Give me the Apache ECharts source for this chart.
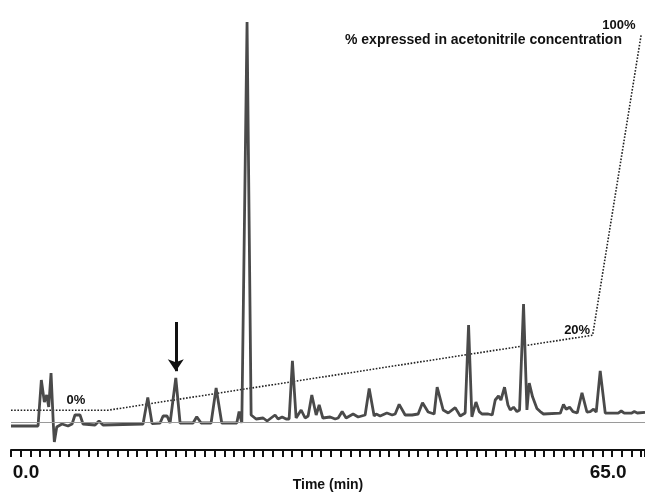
<!DOCTYPE html>
<html>
<head>
<meta charset="utf-8">
<script src="https://cdn.jsdelivr.net/npm/echarts@6/dist/echarts.min.js"></script>
<style>
  html, body { margin: 0; padding: 0; background: #fff; }
  #chart { width: 645px; height: 494px; }
</style>
</head>
<body>
<div id="chart"></div>
<script>
// chromatogram trace (time in min, signal in arbitrary units)
const traceTime = [
  0, 2.79, 3.13, 3.44, 3.68, 3.89, 4.13, 4.37, 4.47, 4.72, 5.26, 5.88, 6.30, 6.60, 7.12, 7.43,
  8.67, 9.08, 9.49, 13.62, 14.11, 14.55, 15.38, 15.69, 16.10, 16.41, 16.58, 17.00, 17.44,
  18.78, 19.16, 19.61, 20.64, 21.16, 21.74, 23.29, 23.53, 23.81, 23.97, 24.35, 24.77, 25.28,
  26.01, 26.42, 27.24, 27.55, 27.97, 28.38, 28.69, 29.03, 29.41, 29.93, 30.34, 30.65, 31.03,
  31.48, 31.79, 32.17, 32.92, 33.44, 33.75, 34.16, 34.57, 35.29, 35.81, 36.53, 36.64, 36.95,
  37.46, 37.67, 38.08, 38.77, 39.32, 39.63, 40.04, 40.66, 41.38, 42.00, 42.45, 43.03, 43.65,
  43.96, 44.58, 45.10, 45.82, 46.34, 46.85, 47.20, 47.54, 47.96, 48.30, 48.58, 49.23, 49.64,
  49.95, 50.29, 50.54, 50.91, 51.26, 51.50, 51.84, 52.19, 52.46, 52.87, 53.22, 53.46, 53.80,
  54.25, 54.59, 54.93, 56.66, 56.99, 57.27, 57.62, 57.97, 58.41, 58.90, 59.41, 59.75, 60.09,
  60.37, 60.78, 61.30, 62.64, 62.95, 63.26, 63.99, 64.30, 64.60, 65.40
]
const traceSignal = [
  -0.5, -0.5, 11, 5.5, 7.25, 4.25, 12.75, -0.25, -4.5, -0.75, 0, -0.5, 0, 2.25, 2.25, 0,
  -0.25, 0.75, -0.25, 0, 6.6, 0.1, 0.25, 2, 2, 0.25, 0.25, 11.5, 0.25,
  0.25, 1.8, 0.25, 0.25, 9, 0.25, 0.25, 3.1, 0.25, 0.25, 100.5, 2.25, 1.25,
  1.5, 0.75, 2.25, 1.25, 1.75, 1.25, 1.25, 15.8, 1.5, 3.5, 1.5, 2, 7.25,
  2.25, 4.75, 1.5, 1.75, 1.25, 1.5, 3.1, 1.5, 2.5, 1.75, 2.25, 1.75, 8.9,
  2, 2.5, 2, 2.75, 2.25, 2.5, 4.9, 2.25, 2.25, 2.5, 5.3, 3, 2.5,
  9.2, 3.5, 2.75, 4.1, 2, 2.75, 24.75, 1.8, 5.5, 3.1, 2.5, 2.5, 2.25,
  6, 7, 6, 9.2, 4.75, 3.5, 4.2, 3.1, 3.5, 30, 3.5, 10.2, 6.8,
  3.9, 3.1, 2.5, 2.7, 4.9, 3.7, 4.2, 3.1, 2.75, 7.8, 3, 3.1, 3.7,
  3, 13.3, 2.7, 2.7, 3.25, 2.7, 2.7, 3.1, 2.75, 2.9
]

// acetonitrile gradient (%)
const gradientTime = [0, 10, 60, 65]
const gradientPct = [0, 0, 20, 100]
const gradientLabels = ['', '0%', '20%', '100%']

const xTickLabels = { 0: '0.0', 65: '65.0' }
const markedPeak = 17.0   // arrow
const baselineLevel = 0.5

const fontFamily = '"Liberation Sans", Arial, sans-serif'

const chart = echarts.init(document.getElementById('chart'))

const labelPos = [
  null,
  { position: 'top', offset: [-32, 2] },
  { position: 'left', offset: [3, -5] },
  { position: 'left', offset: [0, -10] }
]

const option = {
  backgroundColor: '#ffffff',
  animation: false,
  title: {
    text: '% expressed in acetonitrile concentration',
    left: 340,
    top: 28,
    textStyle: { fontSize: 14, fontWeight: 'bold', fontFamily: fontFamily, color: '#111' }
  },
  grid: { left: 11, right: 0, top: 20, bottom: 50, outerBoundsMode: 'none', containLabel: false },
  xAxis: {
    type: 'value',
    min: 0,
    max: 65.4,
    interval: 1,
    offset: 6,
    splitLine: { show: false },
    axisLine: { onZero: false, lineStyle: { color: '#111', width: 2 } },
    axisTick: { length: 7, lineStyle: { color: '#111', width: 2 } },
    axisLabel: {
      interval: 0,
      margin: 13,
      formatter: v => (v === 0 ? '{a|' + xTickLabels[0] + '}' : v === 65 ? '{b|' + xTickLabels[65] + '}' : ''),
      rich: {
        a: { fontSize: 19, fontWeight: 'bold', fontFamily: fontFamily, color: '#111', padding: [0, 0, 0, 30] },
        b: { fontSize: 19, fontWeight: 'bold', fontFamily: fontFamily, color: '#111', padding: [0, 66, 0, 0] }
      }
    },
    name: 'Time (min)',
    nameLocation: 'middle',
    nameGap: 28,
    nameMoveOverlap: false,
    nameTextStyle: { fontSize: 14, fontWeight: 'bold', fontFamily: fontFamily, color: '#111' }
  },
  yAxis: [
    { type: 'value', min: -5, max: 101, show: false, splitLine: { show: false } },
    { type: 'value', min: -9, max: 104, show: false, splitLine: { show: false } }
  ],
  series: [
    {
      type: 'line',
      name: 'gradient',
      yAxisIndex: 1,
      showSymbol: true,
      symbol: 'circle',
      symbolSize: 1,
      itemStyle: { color: 'rgba(0,0,0,0)' },
      silent: true,
      lineStyle: { color: '#222', width: 1.6, type: 'dotted' },
      data: gradientTime.map((t, i) => {
        const item = { value: [t, gradientPct[i]] }
        if (gradientLabels[i]) {
          item.label = Object.assign({
            show: true,
            formatter: gradientLabels[i],
            fontSize: 13,
            fontWeight: 'bold',
            fontFamily: fontFamily,
            color: '#111'
          }, labelPos[i])
        }
        return item
      })
    },
    {
      type: 'line',
      name: 'trace',
      showSymbol: false,
      symbol: 'none',
      silent: true,
      lineStyle: { color: '#4a4a4a', width: 2.8 },
      data: traceTime.map((t, i) => [t, traceSignal[i]]),
      markLine: {
        silent: true,
        symbol: ['none', 'none'],
        label: { show: false },
        data: [
          { yAxis: baselineLevel, lineStyle: { color: '#9a9a9a', width: 1, type: 'solid' } },
          [
            { coord: [markedPeak, 25.5], lineStyle: { color: '#111', width: 3, type: 'solid' } },
            { coord: [markedPeak, 13.2], symbol: 'arrow', symbolSize: 12 }
          ]
        ]
      }
    }
  ]
}

chart.setOption(option)
</script>
</body>
</html>
